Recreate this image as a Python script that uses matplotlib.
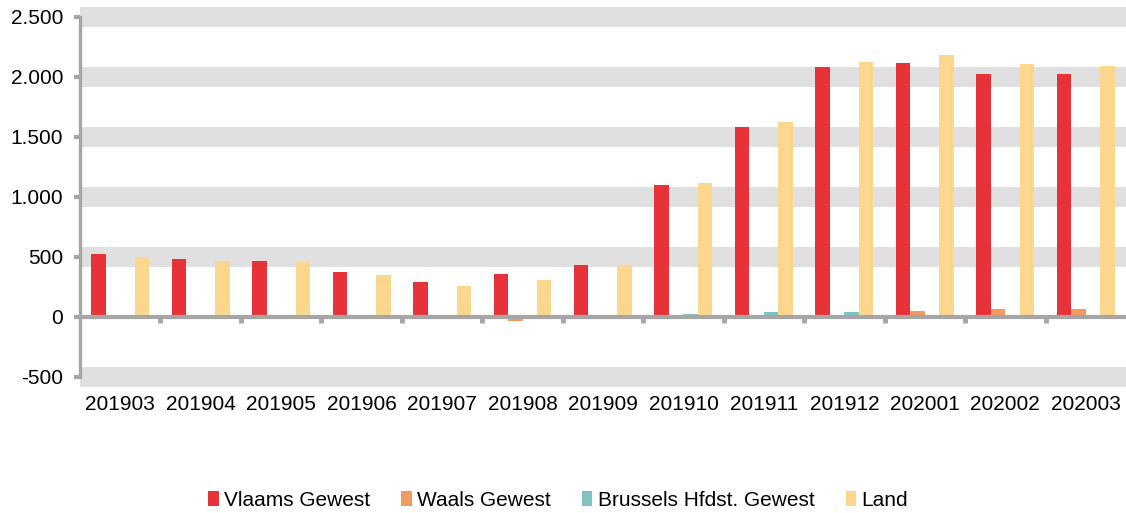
import numpy as np
import matplotlib
matplotlib.use('Agg')
import matplotlib.pyplot as plt

plt.rcParams['font.family'] = ['Liberation Sans', 'DejaVu Sans']

# data
months = ['201903', '201904', '201905', '201906', '201907', '201908', '201909',
          '201910', '201911', '201912', '202001', '202002', '202003']
vlaams = [525, 480, 461, 372, 292, 358, 433, 1100, 1578, 2081, 2114, 2025, 2022]
waals = [0, 0, 0, 0, 0, -36, 0, 0, 0, 0, 50, 64, 67]
brussel = [0, 0, 0, 0, 0, 0, 0, 25, 40, 40, 0, 0, 0]
land = [497, 461, 458, 344, 258, 308, 428, 1117, 1625, 2122, 2178, 2106, 2089]

series_names = ['Vlaams Gewest', 'Waals Gewest', 'Brussels Hfdst. Gewest', 'Land']
series_colors = ['#E8323A', '#F29A61', '#80C4C1', '#FED78F']

yticks = [-500, 0, 500, 1000, 1500, 2000, 2500]
ytick_labels = ['-500', '0', '500', '1.000', '1.500', '2.000', '2.500']

fig = plt.figure(figsize=(11.26, 5.13), dpi=100)
ax = fig.add_axes([0.071, 0.2462, 0.929, 0.7408])

grey = '#A6A6A6'
band = 83.3
for t in yticks:
    if t != 0:
        ax.axhspan(t - band, t + band, color='#E0E0E0', lw=0, zorder=0)

x = np.arange(len(months))
w = 0.18
offsets = [-0.27, -0.09, 0.09, 0.27]
for vals, name, col, off in zip([vlaams, waals, brussel, land], series_names, series_colors, offsets):
    ax.bar(x + off, vals, width=w, color=col, label=name, zorder=2)

ax.axhline(0, color=grey, lw=3, zorder=3)
# category boundary ticks hanging below the zero line
bounds = np.arange(len(months) + 1) - 0.5
ax.vlines(bounds[1:-1], -50, 0, color=grey, lw=3.5, zorder=3)

ax.set_xlim(-0.5, len(months) - 0.5)
ax.set_ylim(-583, 2583)

for s in ['top', 'right', 'bottom']:
    ax.spines[s].set_visible(False)
ax.spines['left'].set_color(grey)
ax.spines['left'].set_linewidth(2.4)
ax.spines['left'].set_bounds(-500, 2500)

ax.set_yticks(yticks)
ax.set_yticklabels(ytick_labels)
ax.tick_params(axis='y', length=4, width=3, color=grey, pad=8, labelsize=15)
ax.set_xticks(x)
ax.set_xticklabels(months)
ax.tick_params(axis='x', length=0, pad=6, labelsize=15)

fig.legend(loc='center', bbox_to_anchor=(558 / 1126, 1 - 500 / 513), ncol=4,
           frameon=False, fontsize=15, handlelength=0.5, handleheight=0.7,
           handletextpad=0.25, columnspacing=1.5)

fig.savefig('out.png', dpi=100)
